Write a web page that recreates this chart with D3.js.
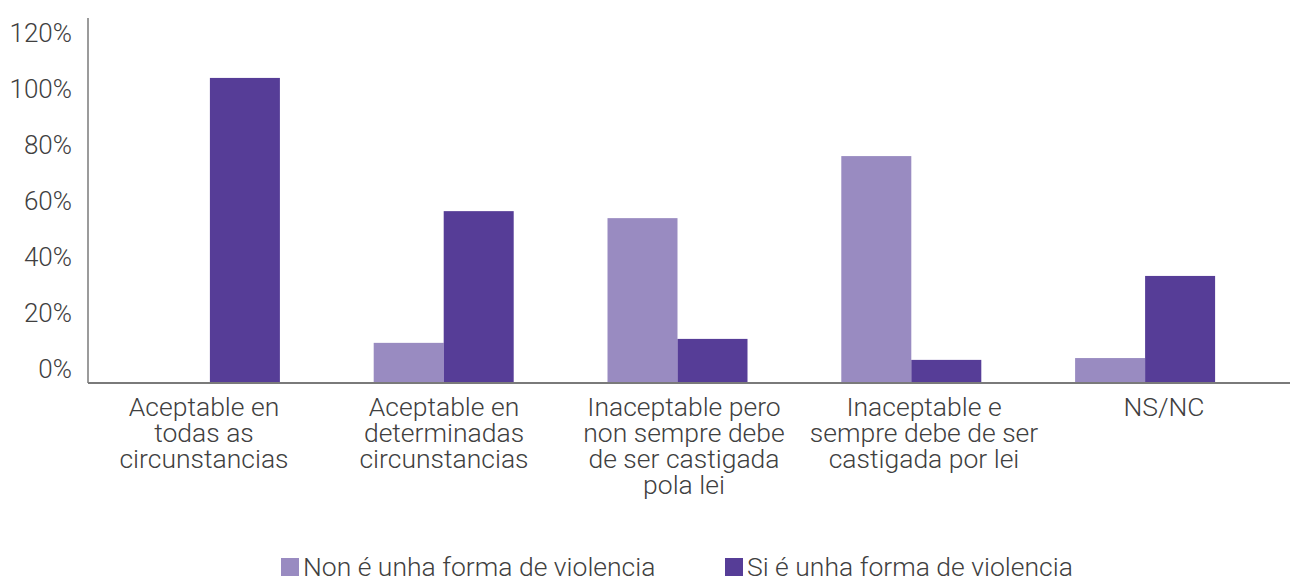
<!DOCTYPE html>
<html>
<head>
<meta charset="utf-8">
<script src="https://cdn.jsdelivr.net/npm/d3@7"></script>
<style>
  body { margin: 0; background: #fff; }
  text { font-family: Roboto, "Open Sans", sans-serif; font-weight: 300; fill: #404040; }
</style>
</head>
<body>
<div class="chart"></div>
<script>
// data
var categories = [
  "Aceptable en todas as circunstancias",
  "Aceptable en determinadas circunstancias",
  "Inaceptable pero non sempre debe de ser castigada pola lei",
  "Inaceptable e sempre debe de ser castigada por lei",
  "NS/NC"
];
var categoryLines = [
  ["Aceptable en", "todas as", "circunstancias"],
  ["Aceptable en", "determinadas", "circunstancias"],
  ["Inaceptable pero", "non sempre debe", "de ser castigada", "pola lei"],
  ["Inaceptable e", "sempre debe de ser", "castigada por lei"],
  ["NS/NC"]
];
var seriesNames = ["Non é unha forma de violencia", "Si é unha forma de violencia"];
var nonValues = [0, 0.132, 0.542, 0.746, 0.082];
var siValues = [1.003, 0.565, 0.145, 0.076, 0.352];
var yTicks = [0, 0.2, 0.4, 0.6, 0.8, 1.0, 1.2];

var colors = ["#998bc1", "#563d97"];

var width = 1294;
var height = 579;

var svg = d3.select('.chart').append('svg')
            .attr('width', width)
            .attr('height', height);

// plot area
var plotLeft = 88, plotRight = 1290, plotTop = 18, plotBottom = 383;

var y = d3.scaleLinear().domain([0, 1.2]).range([plotBottom, plotTop]);
// the tick labels sit a little off the gridline positions in the original
var yLabel = d3.scaleLinear().domain([0, 1.2]).range([plotBottom - 14, plotTop + 15]);

var xBars = d3.scaleBand().domain(categories).range([93, 1262]).padding(0);
var xLabels = d3.scaleBand().domain(categories).range([84, 1284]).padding(0);
var xSub = d3.scaleBand().domain([0, 1]).range([0, 140]);

var rows = categories.map(function(c, i) {
  return { cat: c, values: [nonValues[i], siValues[i]] };
});

var groups = svg.selectAll('g.group').data(rows).enter().append('g')
  .attr('class', 'group')
  .attr('transform', function(d) {
    return 'translate(' + (xBars(d.cat) + xBars.bandwidth() / 2 - 70) + ',0)';
  });

groups.selectAll('rect').data(function(d) { return d.values; }).enter().append('rect')
  .attr('x', function(d, i) { return xSub(i); })
  .attr('width', xSub.bandwidth())
  .attr('y', function(d) { return y(d); })
  .attr('height', function(d) { return plotBottom - y(d); })
  .attr('fill', function(d, i) { return colors[i]; });

// y axis labels
var yAxis = d3.axisLeft(yLabel).tickValues(yTicks).tickSize(0).tickPadding(16)
  .tickFormat(d3.format('.0%'));
var yG = svg.append('g').attr('transform', 'translate(' + plotLeft + ',0)').call(yAxis);
yG.select('.domain').remove();
yG.selectAll('text').style('font-size', '26px').attr('fill', '#404040')
  .style('font-family', 'Roboto, sans-serif');

// axis lines
svg.append('line').attr('x1', plotLeft).attr('x2', plotLeft).attr('y1', plotTop).attr('y2', plotBottom)
  .attr('stroke', '#7a7a7a').attr('stroke-width', 1.5);
svg.append('line').attr('x1', plotLeft).attr('x2', plotRight).attr('y1', plotBottom).attr('y2', plotBottom)
  .attr('stroke', '#7a7a7a').attr('stroke-width', 2);

// x axis labels
var xAxis = d3.axisBottom(xLabels).tickSize(0).tickFormat('');
var xG = svg.append('g').attr('transform', 'translate(0,' + plotBottom + ')').call(xAxis);
xG.select('.domain').remove();
xG.selectAll('.tick').each(function(d, i) {
  var t = d3.select(this).append('text')
    .attr('text-anchor', 'middle')
    .attr('fill', '#404040')
    .style('font-size', '26.5px');
  categoryLines[i].forEach(function(line, j) {
    t.append('tspan').attr('x', 0).attr('y', 33 + j * 26).text(line);
  });
});

// legend
var legendX = [281, 725];
var legend = svg.selectAll('g.legend').data(seriesNames).enter().append('g')
  .attr('class', 'legend')
  .attr('transform', function(d, i) { return 'translate(' + legendX[i] + ',558)'; });
legend.append('rect').attr('width', 18).attr('height', 18)
  .attr('fill', function(d, i) { return colors[i]; });
legend.append('text').attr('x', 22).attr('y', 18)
  .style('font-size', '26.5px')
  .attr('fill', '#333')
  .text(function(d) { return d; });
</script>
</body>
</html>
